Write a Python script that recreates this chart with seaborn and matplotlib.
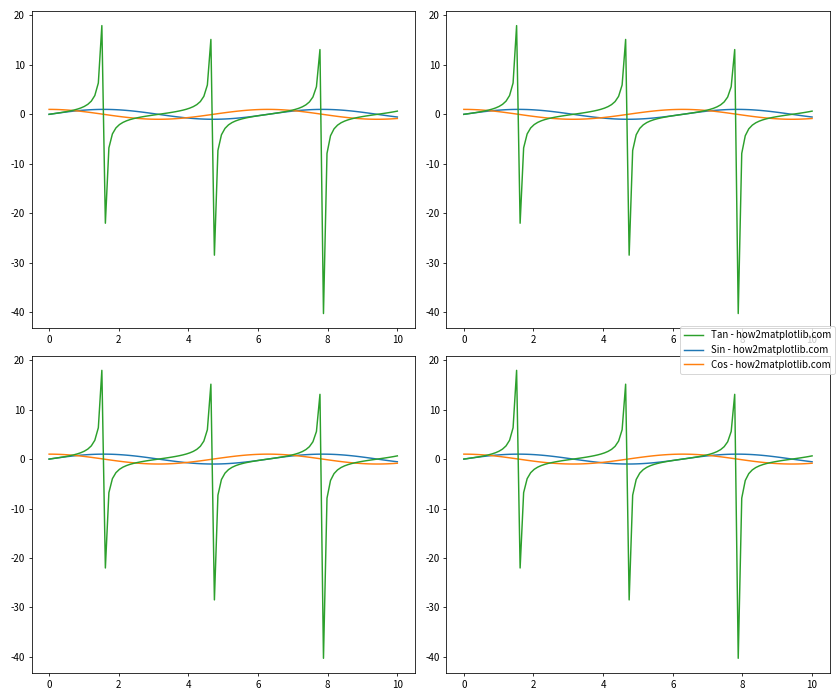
import numpy as np
import pandas as pd
import matplotlib
matplotlib.use("Agg")
import matplotlib.pyplot as plt
import seaborn as sns

plt.rcParams['font.family'] = ['Noto Sans CJK SC', 'DejaVu Sans']
plt.rcParams['axes.unicode_minus'] = False
plt.rcParams['font.size'] = 10

x_vals = [0.0, 0.101, 0.202, 0.303, 0.404, 0.505, 0.606, 0.707, 0.808, 0.909,
          1.010, 1.111, 1.212, 1.313, 1.414, 1.515, 1.616, 1.717, 1.818, 1.919,
          2.020, 2.121, 2.222, 2.323, 2.424, 2.525, 2.626, 2.727, 2.828, 2.929,
          3.030, 3.131, 3.232, 3.333, 3.434, 3.535, 3.636, 3.737, 3.838, 3.939,
          4.040, 4.141, 4.242, 4.343, 4.444, 4.545, 4.646, 4.747, 4.848, 4.949,
          5.051, 5.152, 5.253, 5.354, 5.455, 5.556, 5.657, 5.758, 5.859, 5.960,
          6.061, 6.162, 6.263, 6.364, 6.465, 6.566, 6.667, 6.768, 6.869, 6.970,
          7.071, 7.172, 7.273, 7.374, 7.475, 7.576, 7.677, 7.778, 7.879, 7.980,
          8.081, 8.182, 8.283, 8.384, 8.485, 8.586, 8.687, 8.788, 8.889, 8.990,
          9.091, 9.192, 9.293, 9.394, 9.495, 9.596, 9.697, 9.798, 9.899, 10.0]

sin_vals = [0.000, 0.101, 0.201, 0.298, 0.393, 0.484, 0.570, 0.650, 0.723, 0.789,
            0.847, 0.896, 0.937, 0.967, 0.988, 0.998, 0.999, 0.989, 0.970, 0.940,
            0.901, 0.852, 0.795, 0.730, 0.657, 0.578, 0.493, 0.403, 0.308, 0.211,
            0.111, 0.010, -0.091, -0.191, -0.289, -0.384, -0.475, -0.561, -0.642, -0.716,
            -0.783, -0.841, -0.892, -0.933, -0.964, -0.986, -0.998, -0.999, -0.991, -0.972,
            -0.943, -0.905, -0.858, -0.801, -0.737, -0.665, -0.587, -0.502, -0.412, -0.318,
            -0.221, -0.121, -0.021, 0.080, 0.181, 0.279, 0.374, 0.466, 0.553, 0.634,
            0.709, 0.776, 0.836, 0.887, 0.929, 0.962, 0.984, 0.997, 1.000, 0.992,
            0.974, 0.947, 0.910, 0.863, 0.808, 0.744, 0.673, 0.595, 0.511, 0.421,
            0.328, 0.231, 0.132, 0.031, -0.070, -0.170, -0.269, -0.365, -0.457, -0.544]

cos_vals = [1.000, 0.995, 0.980, 0.954, 0.920, 0.875, 0.822, 0.760, 0.691, 0.615,
            0.532, 0.444, 0.351, 0.254, 0.156, 0.056, -0.045, -0.146, -0.245, -0.341,
            -0.434, -0.523, -0.606, -0.683, -0.754, -0.816, -0.870, -0.915, -0.951, -0.978,
            -0.994, -1.000, -0.996, -0.982, -0.957, -0.924, -0.880, -0.828, -0.767, -0.698,
            -0.622, -0.540, -0.453, -0.361, -0.265, -0.166, -0.066, 0.035, 0.136, 0.235,
            0.332, 0.425, 0.514, 0.598, 0.676, 0.747, 0.810, 0.865, 0.911, 0.948,
            0.975, 0.993, 1.000, 0.997, 0.984, 0.960, 0.927, 0.885, 0.834, 0.774,
            0.706, 0.631, 0.549, 0.462, 0.370, 0.275, 0.176, 0.076, -0.025, -0.126,
            -0.225, -0.322, -0.416, -0.506, -0.590, -0.668, -0.740, -0.804, -0.860, -0.907,
            -0.945, -0.973, -0.991, -1.000, -0.998, -0.985, -0.963, -0.931, -0.890, -0.839]

tan_vals = [0.000, 0.101, 0.205, 0.313, 0.428, 0.553, 0.693, 0.854, 1.046, 1.283,
            1.592, 2.020, 2.670, 3.804, 6.34, 17.95, -22.03, -6.783, -3.960, -2.753,
            -2.073, -1.630, -1.312, -1.068, -0.872, -0.709, -0.566, -0.440, -0.324, -0.216,
            -0.112, -0.010, 0.091, 0.194, 0.301, 0.416, 0.540, 0.678, 0.837, 1.025,
            1.258, 1.557, 1.968, 2.582, 3.642, 5.935, 15.15, -28.49, -7.302, -4.138,
            -2.844, -2.129, -1.667, -1.340, -1.091, -0.891, -0.724, -0.580, -0.452, -0.335,
            -0.226, -0.122, -0.021, 0.081, 0.184, 0.290, 0.403, 0.526, 0.663, 0.819,
            1.004, 1.231, 1.522, 1.918, 2.509, 3.501, 5.584, 13.10, -40.30, -7.906,
            -4.333, -2.940, -2.187, -1.707, -1.369, -1.114, -0.909, -0.740, -0.594, -0.465,
            -0.347, -0.237, -0.133, -0.031, 0.070, 0.173, 0.279, 0.392, 0.513, 0.648]

series_names = ["Sin - how2matplotlib.com", "Cos - how2matplotlib.com", "Tan - how2matplotlib.com"]
series_colors = ["#1f77b4", "#ff7f0e", "#2ca02c"]

df = pd.DataFrame({
    "x": x_vals * 3,
    "y": sin_vals + cos_vals + tan_vals,
    "series": [series_names[0]] * len(x_vals) + [series_names[1]] * len(x_vals) + [series_names[2]] * len(x_vals),
})

fig, axes = plt.subplots(2, 2, figsize=(12, 10), dpi=70)
palette = dict(zip(series_names, series_colors))
for ax in axes.flat:
    sns.lineplot(data=df, x="x", y="y", hue="series", palette=palette,
                 hue_order=series_names, ax=ax, legend=False, linewidth=1.5)
    ax.set_xlabel("")
    ax.set_ylabel("")
    ax.set_yticks([-40, -30, -20, -10, 0, 10, 20])
    ax.set_xticks([0, 2, 4, 6, 8, 10])

lines = axes[0, 0].get_lines()
handles = [lines[2], lines[0], lines[1]]
labels = [series_names[2], series_names[0], series_names[1]]
plt.tight_layout()
fig.legend(handles, labels, loc="center right")
fig.savefig("out.png", dpi=70)
